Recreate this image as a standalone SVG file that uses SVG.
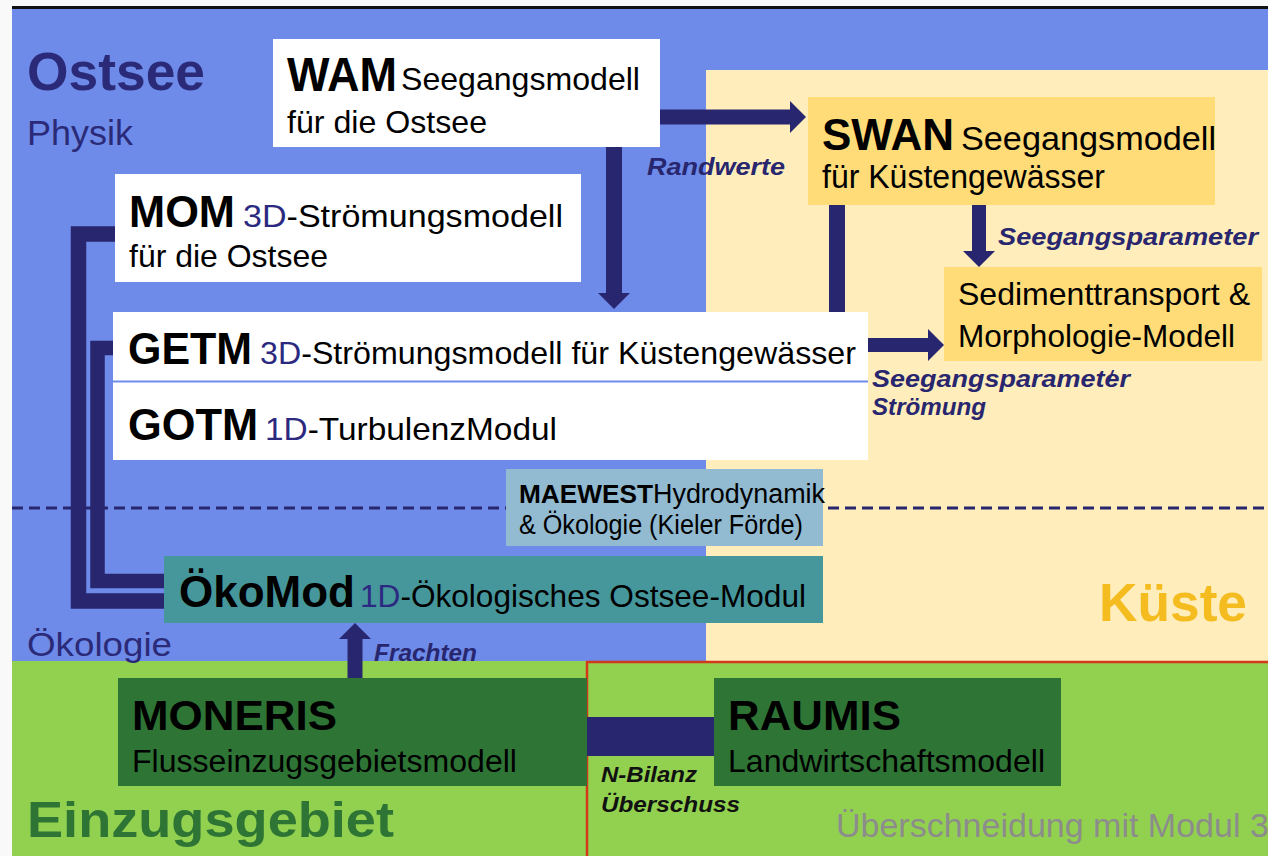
<svg xmlns="http://www.w3.org/2000/svg" width="1268" height="856" viewBox="0 0 1268 856">
<defs>
<style>
text{font-family:"Liberation Sans",Arial,sans-serif;fill:#000}
.b{font-weight:bold}
.nv{fill:#2c2a80}
.lbl{font-weight:bold;font-style:italic;fill:#28266e}
.blk{font-weight:bold;font-style:italic;fill:#111}
.bar{stroke:#28266e;fill:none}
</style>
<marker id="ah" markerUnits="userSpaceOnUse" markerWidth="16" markerHeight="32" refX="0" refY="16" orient="auto" viewBox="0 0 16 32"><path d="M0,0 L16,16 L0,32 Z" fill="#28266e"/></marker>
</defs>

<g id="background">
<rect width="1268" height="856" fill="#f9f9f9"/>
<rect x="12" y="6" width="1256" height="3.5" fill="#111"/>
<rect x="12" y="9" width="1256" height="652" fill="#6e8be9"/>
<rect x="706" y="70" width="562" height="591" fill="#ffedbc"/>
<rect x="12" y="661" width="1256" height="195" fill="#92d14f"/>
<path d="M587,856 V662 H1268" stroke="#d2391a" stroke-width="2.5" fill="none"/>
<line x1="12" y1="508" x2="1268" y2="508" stroke="#28266e" stroke-width="3" stroke-dasharray="11 6"/>
<text x="27" y="90" font-size="53" class="b" style="fill:#2b2a78" textLength="178" lengthAdjust="spacingAndGlyphs">Ostsee</text>
<text x="27" y="145" font-size="35" style="fill:#2b2a78" textLength="106" lengthAdjust="spacingAndGlyphs">Physik</text>
<text x="27" y="656" font-size="33" style="fill:#2b2a78" textLength="145" lengthAdjust="spacingAndGlyphs">Ökologie</text>
<text x="1099" y="621" font-size="54" class="b" style="fill:#f5bc1f" textLength="148" lengthAdjust="spacingAndGlyphs">Küste</text>
<text x="27" y="837" font-size="50" class="b" style="fill:#2e7535" textLength="367" lengthAdjust="spacingAndGlyphs">Einzugsgebiet</text>
<text x="836" y="837" font-size="34" style="fill:#8c8c8c">Überschneidung mit Modul 3</text>
</g>

<g id="connectors">
<path class="bar" stroke-width="15.5" d="M116,234 H78.5 V601 H165"/>
<path class="bar" stroke-width="14.5" d="M114,348 H97.5 V581 H165"/>
<line class="bar" x1="660" y1="117" x2="790" y2="117" stroke-width="15" marker-end="url(#ah)"/>
<line class="bar" x1="614" y1="147" x2="614" y2="293" stroke-width="16" marker-end="url(#ah)"/>
<line class="bar" x1="837" y1="204" x2="837" y2="313" stroke-width="16"/>
<line class="bar" x1="979" y1="204" x2="979" y2="251" stroke-width="14" marker-end="url(#ah)"/>
<line class="bar" x1="867" y1="345" x2="928" y2="345" stroke-width="14" marker-end="url(#ah)"/>
<line class="bar" x1="355" y1="679" x2="355" y2="639" stroke-width="15" marker-end="url(#ah)"/>
<rect x="587" y="717" width="128" height="39" fill="#28266e"/>
<text class="lbl" x="647" y="175" font-size="24" textLength="138" lengthAdjust="spacingAndGlyphs">Randwerte</text>
<text class="lbl" x="998" y="245" font-size="24" textLength="260" lengthAdjust="spacingAndGlyphs">Seegangsparameter</text>
<text class="lbl" x="872" y="387" font-size="24" textLength="258" lengthAdjust="spacingAndGlyphs">Seegangsparameter</text>
<text class="lbl" x="1108" y="382" font-size="17">/</text>
<text class="lbl" x="872" y="415" font-size="24" textLength="114" lengthAdjust="spacingAndGlyphs">Strömung</text>
<text class="lbl" x="374" y="661" font-size="24" textLength="103" lengthAdjust="spacingAndGlyphs">Frachten</text>
<text class="blk" x="601" y="782" font-size="22" textLength="96" lengthAdjust="spacingAndGlyphs">N-Bilanz</text>
<text class="blk" x="601" y="812" font-size="22" textLength="139" lengthAdjust="spacingAndGlyphs">Überschuss</text>
</g>

<g id="wam">
<rect x="273" y="39" width="387" height="108" fill="#fff"/>
<text x="287" y="91" font-size="48" class="b" textLength="110" lengthAdjust="spacingAndGlyphs">WAM</text>
<text x="401" y="90" font-size="32" textLength="239" lengthAdjust="spacingAndGlyphs">Seegangsmodell</text>
<text x="287" y="133" font-size="32" textLength="200" lengthAdjust="spacingAndGlyphs">für die Ostsee</text>
</g>

<g id="mom">
<rect x="115" y="174" width="466" height="108" fill="#fff"/>
<text x="129" y="227" font-size="44" class="b" textLength="106" lengthAdjust="spacingAndGlyphs">MOM</text>
<text x="243" y="227" font-size="32" textLength="320" lengthAdjust="spacingAndGlyphs"><tspan class="nv">3D</tspan>-Strömungsmodell</text>
<text x="129" y="267" font-size="32" textLength="199" lengthAdjust="spacingAndGlyphs">für die Ostsee</text>
</g>

<g id="getm">
<rect x="113" y="312" width="755" height="148" fill="#fff"/>
<line x1="113" y1="381.5" x2="868" y2="381.5" stroke="#6e8be9" stroke-width="2"/>
<text x="128" y="364" font-size="44" class="b" textLength="124" lengthAdjust="spacingAndGlyphs">GETM</text>
<text x="260" y="364" font-size="32" textLength="596" lengthAdjust="spacingAndGlyphs"><tspan class="nv">3D</tspan>-Strömungsmodell für Küstengewässer</text>
<text x="128" y="440" font-size="44" class="b" textLength="130" lengthAdjust="spacingAndGlyphs">GOTM</text>
<text x="265" y="440" font-size="32" textLength="292" lengthAdjust="spacingAndGlyphs"><tspan class="nv">1D</tspan>-TurbulenzModul</text>
</g>

<g id="maewest">
<rect x="506" y="469" width="317" height="77" fill="#92bbd1"/>
<text x="519" y="503" font-size="26" class="b" textLength="134" lengthAdjust="spacingAndGlyphs">MAEWEST</text>
<text x="653" y="503" font-size="27" textLength="172" lengthAdjust="spacingAndGlyphs">Hydrodynamik</text>
<text x="519" y="534" font-size="27" textLength="284" lengthAdjust="spacingAndGlyphs">&amp; Ökologie (Kieler Förde)</text>
</g>

<g id="oekomod">
<rect x="164" y="556" width="659" height="67" fill="#46979c"/>
<text x="179" y="607" font-size="44" class="b" textLength="176" lengthAdjust="spacingAndGlyphs">ÖkoMod</text>
<text x="360" y="607" font-size="32" textLength="446" lengthAdjust="spacingAndGlyphs"><tspan class="nv">1D</tspan>-Ökologisches Ostsee-Modul</text>
</g>

<g id="swan">
<rect x="808" y="97" width="407" height="108" fill="#ffdc78"/>
<text x="822" y="150" font-size="44" class="b" textLength="132" lengthAdjust="spacingAndGlyphs">SWAN</text>
<text x="961" y="150" font-size="34" textLength="255" lengthAdjust="spacingAndGlyphs">Seegangsmodell</text>
<text x="822" y="188" font-size="33" textLength="283" lengthAdjust="spacingAndGlyphs">für Küstengewässer</text>
</g>

<g id="sediment">
<rect x="944" y="267" width="318" height="94" fill="#ffdc78"/>
<text x="958" y="305" font-size="32" textLength="292" lengthAdjust="spacingAndGlyphs">Sedimenttransport &amp;</text>
<text x="958" y="347" font-size="32" textLength="277" lengthAdjust="spacingAndGlyphs">Morphologie-Modell</text>
</g>

<g id="moneris">
<rect x="118" y="678" width="469" height="108" fill="#2e7535"/>
<text x="132" y="730" font-size="42" class="b" textLength="205" lengthAdjust="spacingAndGlyphs">MONERIS</text>
<text x="132" y="772" font-size="31" textLength="385" lengthAdjust="spacingAndGlyphs">Flusseinzugsgebietsmodell</text>
</g>

<g id="raumis">
<rect x="714" y="678" width="347" height="108" fill="#2e7535"/>
<text x="728" y="730" font-size="42" class="b" textLength="173" lengthAdjust="spacingAndGlyphs">RAUMIS</text>
<text x="728" y="772" font-size="32" textLength="317" lengthAdjust="spacingAndGlyphs">Landwirtschaftsmodell</text>
</g>
</svg>
